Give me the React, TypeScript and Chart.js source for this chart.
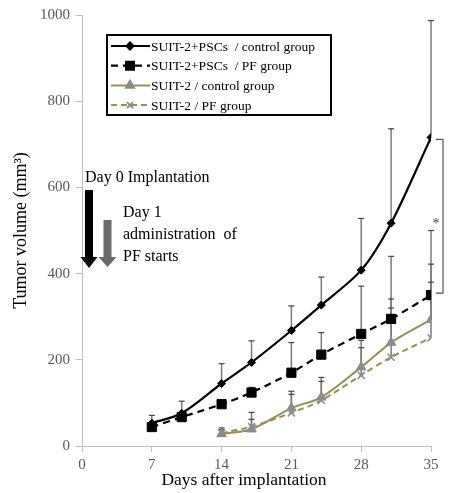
import { Chart, registerables, type Plugin } from "chart.js";
import { drawPoint } from "chart.js/helpers";
import * as React from "react";

Chart.register(...registerables);

const days = [7, 10, 14, 17, 21, 24, 28, 31, 35];
const daysSuit2 = [14, 17, 21, 24, 28, 31, 35];

const pscControl = [53, 76, 145, 194, 268, 327, 408, 517, 716];
const pscControlTop = [71, 104, 191, 244, 325, 392, 528, 736, 987];
const pscPF = [44, 67, 97, 124, 170, 212, 260, 295, 350];
const pscPFTop = [52, 77, 106, 136, 240, 263, 371, 440, 500];
const suitControl = [28, 39, 88, 113, 183, 240, 293];
const suitControlTop = [42, 78, 127, 159, 245, 341, 422];
const suitPF = [30, 45, 77, 106, 164, 206, 251];
const suitPFTop = [38, 62, 120, 150, 228, 320, 380];

const xTicks = [0, 7, 14, 21, 28, 35];
const yTicks = [0, 200, 400, 600, 800, 1000];

const labelNames = [
  "SUIT-2+PSCs  / control group",
  "SUIT-2+PSCs  / PF group",
  "SUIT-2 / control group",
  "SUIT-2 / PF group",
];

const SERIF = "'Liberation Serif', 'Times New Roman', serif";
const OLIVE = "#978d5c";
const MARKER_GRAY = "#8c8c8c";

const toPoints = (xs: number[], ys: number[]) => xs.map((x, i) => ({ x, y: ys[i] }));

const errorTops = [pscControlTop, pscPFTop, suitControlTop, suitPFTop];

// upward error bars, drawn behind the lines
const errorBars: Plugin = {
  id: "errorBars",
  beforeDatasetsDraw(chart) {
    const { ctx, scales } = chart;
    const x = scales.x;
    const y = scales.y;
    ctx.save();
    chart.data.datasets.forEach((ds, i) => {
      const tops = errorTops[i];
      (ds.data as { x: number; y: number }[]).forEach((p, j) => {
        const px = x.getPixelForValue(p.x);
        const py = y.getPixelForValue(p.y);
        const pt = y.getPixelForValue(tops[j]);
        ctx.strokeStyle = "#7a7a7a";
        ctx.lineWidth = 1.5;
        ctx.beginPath();
        ctx.moveTo(px, py);
        ctx.lineTo(px, pt);
        ctx.stroke();
        ctx.strokeStyle = "#444";
        ctx.lineWidth = 1.2;
        ctx.beginPath();
        ctx.moveTo(px - 3, pt);
        ctx.lineTo(px + 3, pt);
        ctx.stroke();
      });
    });
    ctx.restore();
  },
};

const arrow = (
  ctx: CanvasRenderingContext2D,
  cx: number,
  top: number,
  tip: number,
  shaft: number,
  head: number,
  headLen: number,
  color: string
) => {
  ctx.fillStyle = color;
  ctx.beginPath();
  ctx.moveTo(cx - shaft / 2, top);
  ctx.lineTo(cx + shaft / 2, top);
  ctx.lineTo(cx + shaft / 2, tip - headLen);
  ctx.lineTo(cx + head / 2, tip - headLen);
  ctx.lineTo(cx, tip);
  ctx.lineTo(cx - head / 2, tip - headLen);
  ctx.lineTo(cx - shaft / 2, tip - headLen);
  ctx.closePath();
  ctx.fill();
};

// legend box, implantation notes, x title and significance bracket
const extras: Plugin = {
  id: "extras",
  afterDraw(chart) {
    const { ctx, scales } = chart;
    const x = scales.x;
    const y = scales.y;
    ctx.save();

    // legend
    ctx.strokeStyle = "#000";
    ctx.lineWidth = 2;
    ctx.strokeRect(107, 35, 224, 80);
    ctx.font = `13.5px ${SERIF}`;
    ctx.textBaseline = "middle";
    ctx.textAlign = "left";
    chart.data.datasets.forEach((ds: any, i) => {
      const ly = 46 + i * 19.7;
      ctx.strokeStyle = ds.borderColor;
      ctx.lineWidth = ds.borderWidth;
      ctx.setLineDash(ds.borderDash || []);
      ctx.beginPath();
      ctx.moveTo(111, ly);
      ctx.lineTo(150, ly);
      ctx.stroke();
      ctx.setLineDash([]);
      ctx.fillStyle = ds.pointBackgroundColor;
      ctx.strokeStyle = ds.pointBorderColor;
      drawPoint(
        ctx,
        {
          pointStyle: ds.pointStyle,
          radius: ds.pointRadius * 0.85,
          rotation: 0,
          borderWidth: ds.pointBorderWidth,
        },
        130,
        ly
      );
      ctx.fillStyle = "#000";
      ctx.fillText(labelNames[i], 151, ly + 1);
    });

    // implantation notes
    ctx.fillStyle = "#000";
    ctx.font = `16px ${SERIF}`;
    ctx.fillText("Day 0 Implantation", 85, 178);
    ctx.fillText("Day 1", 123, 213);
    ctx.fillText("administration  of", 123, 235);
    ctx.fillText("PF starts", 123, 257);
    arrow(ctx, 89, 190, 268, 8, 17, 11, "#000");
    arrow(ctx, 107.5, 220, 267, 8, 18, 10, "#6a6a6a");

    // x axis title
    ctx.fillStyle = "#000";
    ctx.font = `17.5px ${SERIF}`;
    ctx.textAlign = "center";
    ctx.fillText("Days after implantation", 244, 480);

    // bracket between the two PSC groups at day 35
    const bx = x.getPixelForValue(35) + 12;
    const y1 = y.getPixelForValue(pscControl[pscControl.length - 1]);
    const y2 = y.getPixelForValue(pscPF[pscPF.length - 1]);
    ctx.strokeStyle = "#555";
    ctx.lineWidth = 1.2;
    ctx.beginPath();
    ctx.moveTo(bx - 7, y1 + 2);
    ctx.lineTo(bx, y1 + 2);
    ctx.lineTo(bx, y2 - 2);
    ctx.lineTo(bx - 7, y2 - 2);
    ctx.stroke();
    ctx.fillStyle = "#444";
    ctx.font = `14px ${SERIF}`;
    ctx.fillText("*", bx - 7, (y1 + y2) / 2 + 8);
    ctx.restore();
  },
};

export default function App() {
  const canvasRef = React.useRef<HTMLCanvasElement>(null);

  React.useEffect(() => {
    document.body.style.margin = "0";
    if (!canvasRef.current) return;

    const chart = new Chart(canvasRef.current, {
      type: "line",
      data: {
        datasets: [
          {
            label: labelNames[0],
            data: toPoints(days, pscControl),
            borderColor: "#000",
            borderWidth: 2.2,
            pointStyle: "rectRot",
            pointRadius: 4,
            pointBackgroundColor: "#000",
            pointBorderColor: "#000",
            pointBorderWidth: 1,
          },
          {
            label: labelNames[1],
            data: toPoints(days, pscPF),
            borderColor: "#000",
            borderWidth: 2.2,
            borderDash: [7, 5],
            pointStyle: "rect",
            pointRadius: 6.5,
            pointBackgroundColor: "#000",
            pointBorderColor: "#000",
            pointBorderWidth: 1,
          },
          {
            label: labelNames[2],
            data: toPoints(daysSuit2, suitControl),
            borderColor: OLIVE,
            borderWidth: 2,
            pointStyle: "triangle",
            pointRadius: 5.5,
            pointBackgroundColor: MARKER_GRAY,
            pointBorderColor: MARKER_GRAY,
            pointBorderWidth: 1,
          },
          {
            label: labelNames[3],
            data: toPoints(daysSuit2, suitPF),
            borderColor: OLIVE,
            borderWidth: 2,
            borderDash: [6, 4],
            pointStyle: "crossRot",
            pointRadius: 5,
            pointBackgroundColor: MARKER_GRAY,
            pointBorderColor: MARKER_GRAY,
            pointBorderWidth: 1.5,
          },
        ],
      },
      options: {
        animation: false,
        responsive: true,
        maintainAspectRatio: false,
        elements: { line: { tension: 0.3 } },
        layout: { padding: { left: 0, top: 13, right: 18, bottom: 0 } },
        plugins: {
          legend: { display: false },
          tooltip: { enabled: false },
        },
        scales: {
          x: {
            type: "linear",
            min: 0,
            max: 35,
            afterBuildTicks: (axis) => {
              axis.ticks = xTicks.map((v) => ({ value: v }));
            },
            afterFit: (axis) => {
              axis.height = 47;
            },
            ticks: {
              color: "#595959",
              font: { family: SERIF, size: 15 },
              padding: 4,
              callback: (v) => String(v),
            },
            grid: {
              drawOnChartArea: false,
              drawTicks: true,
              tickLength: 6,
              color: "#bfbfbf",
            },
            border: { color: "#bfbfbf", width: 1 },
          },
          y: {
            min: 0,
            max: 1000,
            afterBuildTicks: (axis) => {
              axis.ticks = yTicks.map((v) => ({ value: v }));
            },
            afterFit: (axis) => {
              axis.width = 82;
            },
            ticks: {
              color: "#595959",
              font: { family: SERIF, size: 15 },
              padding: 6,
              callback: (v) => String(v),
            },
            grid: {
              drawOnChartArea: false,
              drawTicks: true,
              tickLength: 6,
              color: "#bfbfbf",
            },
            border: { color: "#bfbfbf", width: 1 },
            title: {
              display: true,
              text: "Tumor volume (mm³)",
              color: "#000",
              font: { family: SERIF, size: 18 },
              padding: { top: 10, bottom: 0 },
            },
          },
        },
      },
      plugins: [errorBars, extras],
    });

    return () => chart.destroy();
  }, []);

  return (
    <div style={{ position: "relative", width: 449, height: 493 }}>
      <canvas ref={canvasRef} />
    </div>
  );
}
